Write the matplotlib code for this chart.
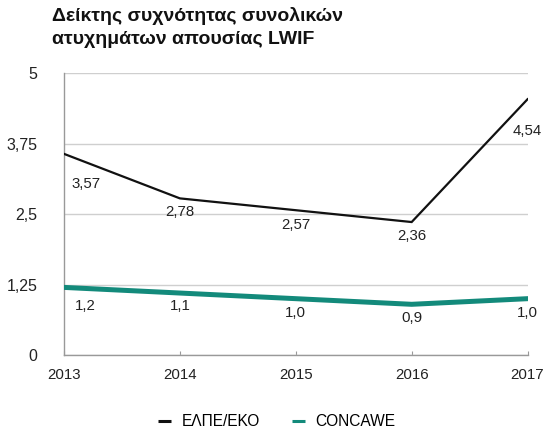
import matplotlib.pyplot as plt
from matplotlib.lines import Line2D

plt.rcParams['font.family'] = ['Liberation Sans', 'DejaVu Sans']

# ------------------- DATA -------------------
years = [2013, 2014, 2015, 2016, 2017]
elpe = [3.57, 2.78, 2.57, 2.36, 4.54]
concawe = [1.2, 1.1, 1.0, 0.9, 1.0]
elpe_labels = ["3,57", "2,78", "2,57", "2,36", "4,54"]
concawe_labels = ["1,2", "1,1", "1,0", "0,9", "1,0"]
yticks = [0, 1.25, 2.5, 3.75, 5]
ytick_labels = ["0", "1,25", "2,5", "3,75", "5"]
series_names = ["ΕΛΠΕ/ΕΚΟ", "CONCAWE"]
title = "Δείκτης συχνότητας συνολικών\nατυχημάτων απουσίας LWIF"
# ------------------------------------------------

BLACK = "#111111"
TEAL = "#138a7b"
GRID = "#cfcfcf"

fig = plt.figure(figsize=(5.45, 4.37), dpi=100)
ax = fig.add_axes([0.1174, 0.1876, 0.8506, 0.6447])

ax.plot(years, elpe, color=BLACK, lw=1.6, solid_joinstyle="miter", zorder=3)
ax.plot(years, concawe, color=TEAL, lw=3.6, zorder=3)

# label offsets in points (dx, dy)
elpe_off = [(16, -21.5), (0, -9.5), (0, -10.5), (0, -10), (0, -23)]
concawe_off = [(15, -13.5), (0, -9.5), (0, -10.5), (0, -10), (0, -10.5)]
for x, y, t, o in zip(years, elpe, elpe_labels, elpe_off):
    ax.annotate(t, (x, y), xytext=o, textcoords="offset points",
                ha="center", va="center", fontsize=10.8, color="#222222")
for x, y, t, o in zip(years, concawe, concawe_labels, concawe_off):
    ax.annotate(t, (x, y), xytext=o, textcoords="offset points",
                ha="center", va="center", fontsize=10.8, color="#222222")

ax.set_xlim(2013, 2017)
ax.set_ylim(0, 5)
ax.set_xticks(years)
ax.set_xticklabels([str(y) for y in years])
ax.set_yticks(yticks)
ax.set_yticklabels(ytick_labels)
ax.tick_params(axis="y", length=0, pad=19, labelsize=11.5, labelcolor="#222222")
ax.tick_params(axis="x", direction="in", length=3, color="#999999",
               pad=9, labelsize=10.8, labelcolor="#222222")

ax.grid(axis="y", color=GRID, lw=1)
ax.set_axisbelow(True)
for s in ["top", "right"]:
    ax.spines[s].set_visible(False)
for s in ["left", "bottom"]:
    ax.spines[s].set_color("#999999")
    ax.spines[s].set_linewidth(1)

fig.text(52 / 545, 1 - 7 / 437, title, ha="left", va="top",
         fontsize=14, fontweight="bold", color="#111111", linespacing=1.45)

handles = [Line2D([], [], color=BLACK, lw=2.2, solid_capstyle="butt"),
           Line2D([], [], color=TEAL, lw=2.2, solid_capstyle="butt")]
fig.legend(handles, series_names, loc="center", bbox_to_anchor=(0.508, 1 - 422 / 437),
           ncol=2, frameon=False, fontsize=11.2, handlelength=0.8,
           handletextpad=0.7, columnspacing=2.1)

fig.savefig("out.png", dpi=100)
